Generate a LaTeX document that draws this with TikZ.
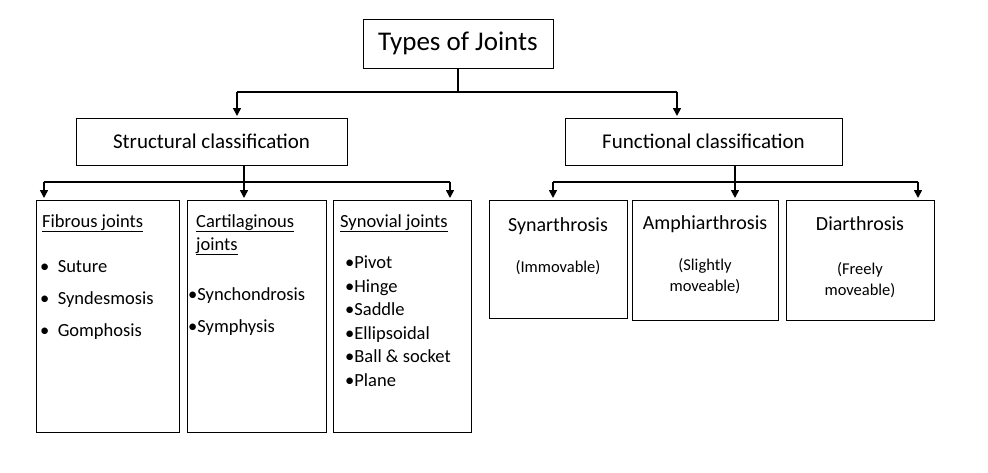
\documentclass[tikz,border=0pt]{standalone}
\usepackage{fontspec}
\setmainfont{Carlito}
\usetikzlibrary{arrows.meta}
\begin{document}
\begin{tikzpicture}[x=1pt,y=-1pt,
 box/.style={draw,line width=0.8pt,inner sep=0pt},
 con/.style={line width=1.6pt},
 arr/.style={line width=1.6pt,-{Triangle[length=8pt,width=8pt]}},
 txt/.style={font=\fontsize{18.5}{23}\selectfont,align=left,anchor=north west,inner sep=0pt}]
\useasboundingbox (0,0) rectangle (988,472);
\node[box,minimum width=190,minimum height=49,font=\fontsize{27}{30}\selectfont] (top) at (458,43.5) {Types of Joints};
\node[box,minimum width=271,minimum height=47,font=\fontsize{21}{25}\selectfont] (str) at (211.5,141.5) {Structural classification};
\node[box,minimum width=277,minimum height=47,font=\fontsize{21}{25}\selectfont] (fun) at (703.5,141.5) {Functional classification};
\draw[box] (36,200) rectangle (179,432);
\draw[box] (187,200) rectangle (326,432);
\draw[box] (333,200) rectangle (471,432);
\draw[box] (489,200) rectangle (627,318);
\draw[box] (632,200) rectangle (778,320);
\draw[box] (786,200) rectangle (934,320);
\coordinate (t1) at (458,92);
\coordinate (s1) at (244,182);
\coordinate (f1) at (735,182);
\draw[con] (top.south) -- (t1);
\draw[arr] (237,92) -- (237,116);
\draw[arr] (677,92) -- (677,116);
\draw[con] (237,92) -- (677,92);
\draw[con] (244,165) -- (s1);
\draw[con] (44,182) -- (450,182);
\draw[arr] (44,182) -- (44,198);
\draw[arr] (244,182) -- (244,198);
\draw[arr] (450,182) -- (450,198);
\draw[con] (735,165) -- (f1);
\draw[con] (553,182) -- (918,182);
\draw[arr] (553,182) -- (553,198);
\draw[arr] (735,182) -- (735,198);
\draw[arr] (918,182) -- (918,198);
\node[txt] (h1) at (42,214) {\underline{Fibrous joints}};
\node[txt] (b1) at (40,260) {\textbullet\ \ Suture\\[9pt]\textbullet\ \ Syndesmosis\\[9pt]\textbullet\ \ Gomphosis};
\node[txt] (h2) at (196,214) {\underline{Cartilaginous}\\\underline{joints}};
\node[txt] (b2) at (188,287) {\textbullet Synchondrosis\\[9pt]\textbullet Symphysis};
\node[txt] (h3) at (340,214) {\underline{Synovial joints}};
\node[txt] (b3) at (345,256) {\textbullet Pivot\\[0.5pt]\textbullet Hinge\\[0.5pt]\textbullet Saddle\\[0.5pt]\textbullet Ellipsoidal\\[0.5pt]\textbullet Ball \& socket\\[0.5pt]\textbullet Plane};
\node[font=\fontsize{20}{24}\selectfont] (n1) at (558,226) {Synarthrosis};
\node[font=\fontsize{16.5}{21}\selectfont] (n1b) at (558,268) {(Immovable)};
\node[font=\fontsize{20}{24}\selectfont] (n2) at (705,224) {Amphiarthrosis};
\node[font=\fontsize{16.5}{21}\selectfont,align=center] (n2b) at (705,276) {(Slightly\\moveable)};
\node[font=\fontsize{20}{24}\selectfont] (n3) at (860,224) {Diarthrosis};
\node[font=\fontsize{16.5}{21}\selectfont,align=center] (n3b) at (860,280) {(Freely\\moveable)};
\end{tikzpicture}
\end{document}
